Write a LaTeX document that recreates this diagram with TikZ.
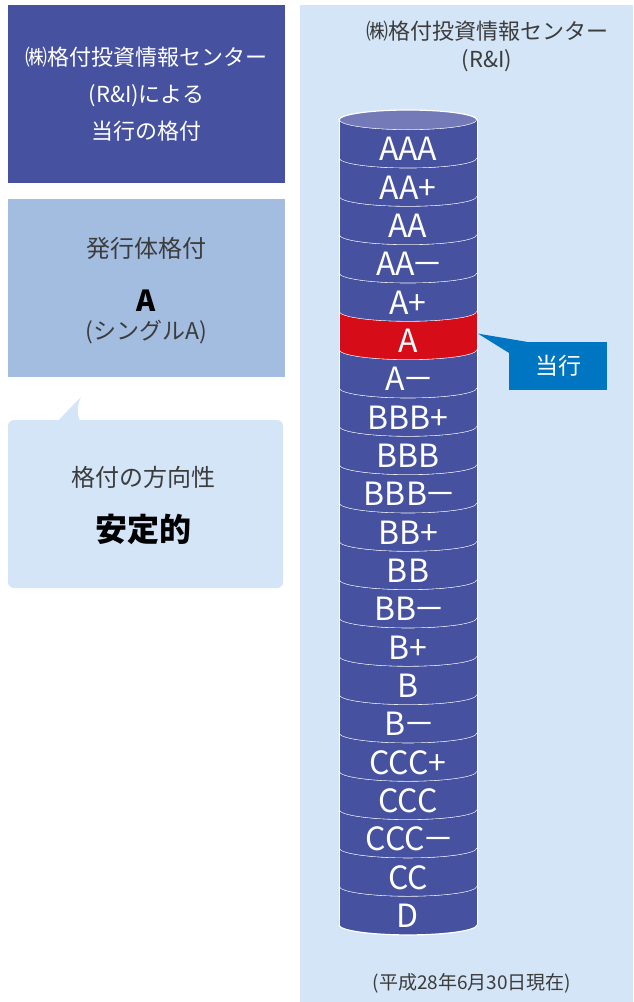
\documentclass[tikz,border=0pt]{standalone}
\usepackage{fontspec}
\setmainfont{Noto Sans CJK JP}
\usetikzlibrary{calc}
\definecolor{rinavy}{HTML}{4652A0}
\definecolor{ritop}{HTML}{7479B8}
\definecolor{rired}{HTML}{D70C19}
\definecolor{rigrey}{HTML}{A3BDE1}
\definecolor{risky}{HTML}{D3E5F6}
\definecolor{riblue}{HTML}{0075C1}
\definecolor{ritext}{HTML}{3C3C3C}
\newcommand{\mns}{\kern-3pt－\kern-4pt}
\tikzset{
  headtext/.style={text=white, align=center, inner sep=0pt,
    font=\fontsize{22}{37}\selectfont},
  bodytext/.style={text=ritext, align=center, inner sep=0pt,
    font=\fontsize{24}{28}\selectfont},
  rating/.style={text=white, inner sep=0pt, font=\fontsize{32}{32}\selectfont},
  sepline/.style={draw=white, line width=1.2pt},
  callout/.style={fill=riblue, text=white, minimum width=98pt, minimum height=48pt,
    inner sep=0pt, font=\fontsize{23}{23}\selectfont}
}

\begin{document}
\begin{tikzpicture}[x=1pt,y=-1pt]
\useasboundingbox (0,0) rectangle (633,1002);
\newcommand{\cylL}{339}
\newcommand{\cylR}{477}
\newcommand{\cylrx}{69}
\newcommand{\cylry}{10}
\newcommand{\band}{38.33}

% left column
\fill[rinavy] (8,5) rectangle (285,183);
\node[headtext] (agency) at (146.5,94) {㈱格付投資情報センター\\(R\&I)による\\当行の格付};

\fill[rigrey] (8,199) rectangle (285,377);
\node[bodytext] (issuer) at (146.5,248) {発行体格付};
\node[bodytext, font=\fontsize{29}{29}\selectfont\bfseries, text=black] (grade) at (146.5,301) {A};
\node[bodytext, font=\fontsize{23}{23}\selectfont] (single) at (146.5,332) {(シングルA)};

\fill[risky, rounded corners=6pt] (8,420) rectangle (283,588);
\fill[risky] (58,421) .. controls (68,410) and (76,402) .. (81,397)
  .. controls (77,405) and (77,414) .. (80,421) -- cycle;
\node[bodytext] (outlook) at (143.5,477) {格付の方向性};
\node[bodytext, font=\fontsize{32}{32}\selectfont\bfseries, text=black] (stable) at (143.5,529) {安定的};

% right panel
\fill[risky] (300,5) rectangle (633,1002);
\node[bodytext, font=\fontsize{22}{28}\selectfont] (title) at (487,46) {㈱格付投資情報センター\\(R\&I)};

% cylinder
\fill[ritop] ({(\cylL+\cylR)/2},120) ellipse[x radius=\cylrx, y radius=\cylry];
\draw[sepline] ({(\cylL+\cylR)/2},120) ellipse[x radius=\cylrx, y radius=\cylry];
\foreach \lab [count=\i from 0] in {AAA,AA+,AA,AA\mns,A+,A,A\mns,BBB+,BBB,BBB\mns,BB+,BB,BB\mns,B+,B,B\mns,CCC+,CCC,CCC\mns,CC,D} {
  \pgfmathsetmacro{\yt}{120+\band*\i}
  \ifnum\i=5 \def\bandcol{rired}\else\def\bandcol{rinavy}\fi
  \fill[\bandcol] (\cylL,\yt) -- ++(0,\band)
    arc[start angle=180, end angle=0, x radius=\cylrx, y radius=\cylry]
    -- ++(0,-\band)
    arc[start angle=0, end angle=180, x radius=\cylrx, y radius=\cylry] -- cycle;
  \draw[sepline] (\cylL,\yt+\band)
    arc[start angle=180, end angle=0, x radius=\cylrx, y radius=\cylry];
  \coordinate (band\i) at (\cylR+1,\yt+22);
  \node[rating] (r\i) at ({(\cylL+\cylR)/2},\yt+29) {\lab};
}
\draw[draw=white, line width=0.6pt] (\cylL,120) -- (\cylL,925) (\cylR,120) -- (\cylR,925);

% callout
\node[callout] (ours) at (558,366) {当行};
\fill[riblue] (ours.north west) -- ++(18,0) -- (band5) -- ($(ours.north west)+(0,11)$) -- cycle;

\node[bodytext, font=\fontsize{19}{19}\selectfont] (asof) at (472,983) {(平成28年6月30日現在)};
\end{tikzpicture}
\end{document}
